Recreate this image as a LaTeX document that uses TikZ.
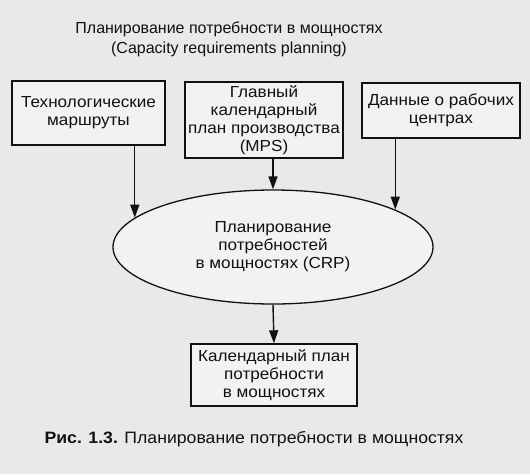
\documentclass[tikz,border=0pt]{standalone}
\usepackage{fontspec}
\setmainfont{Liberation Sans}
\newfontfamily\wideface[FakeStretch=1.07]{Liberation Sans}
\usetikzlibrary{shapes.geometric,arrows.meta}
\definecolor{paper}{HTML}{E9E9E9}
\definecolor{ink}{HTML}{111111}
\begin{document}
\begin{tikzpicture}[x=1pt,y=-1pt,
  every node/.style={font=\wideface\fontsize{16}{18}\selectfont, text=ink, inner sep=0pt},
  box/.style={draw=ink, line width=1.4pt, fill=paper!60!white, align=center},
  oval/.style={ellipse, draw=ink, line width=1.3pt, fill=paper!60!white, align=center},
  conn/.style={draw=ink, line width=1.4pt, -{Triangle[length=13pt,width=9pt]}}]
\fill[paper] (0,0) rectangle (530,474);
\useasboundingbox (0,0) rectangle (530,474);
\node[align=center, font=\fontsize{16}{20}\selectfont] (title) at (229,39) {Планирование потребности в мощностях\\(Capacity requirements planning)};
\node[box, minimum width=153pt, minimum height=64pt] (b1) at (88.5,113) {Технологические\\маршруты};
\node[box, minimum width=158pt, minimum height=76pt] (b2) at (264,120) {Главный\\календарный\\план производства\\(MPS)};
\node[box, minimum width=158pt, minimum height=55pt] (b3) at (441,110.5) {Данные о рабочих\\центрах};
\node[oval, minimum width=320pt, minimum height=114pt] (ell) at (273,247) {Планирование\\потребностей\\в мощностях (CRP)};
\node[box, minimum width=166pt, minimum height=62pt] (b4) at (274,375) {Календарный план\\потребности\\в мощностях};
\node[font=\wideface\fontsize{16.5}{18}\selectfont] (cap) at (254,439) {\textbf{Рис. 1.3.} Планирование потребности в мощностях};
\draw[conn] (ell.168 |- b1.south) -- (ell.168);
\draw[conn] (ell.north |- b2.south) -- (ell.north);
\draw[conn] (ell.17 |- b3.south) -- (ell.17);
\draw[conn] (ell.south) -- (b4.north);
\end{tikzpicture}
\end{document}
